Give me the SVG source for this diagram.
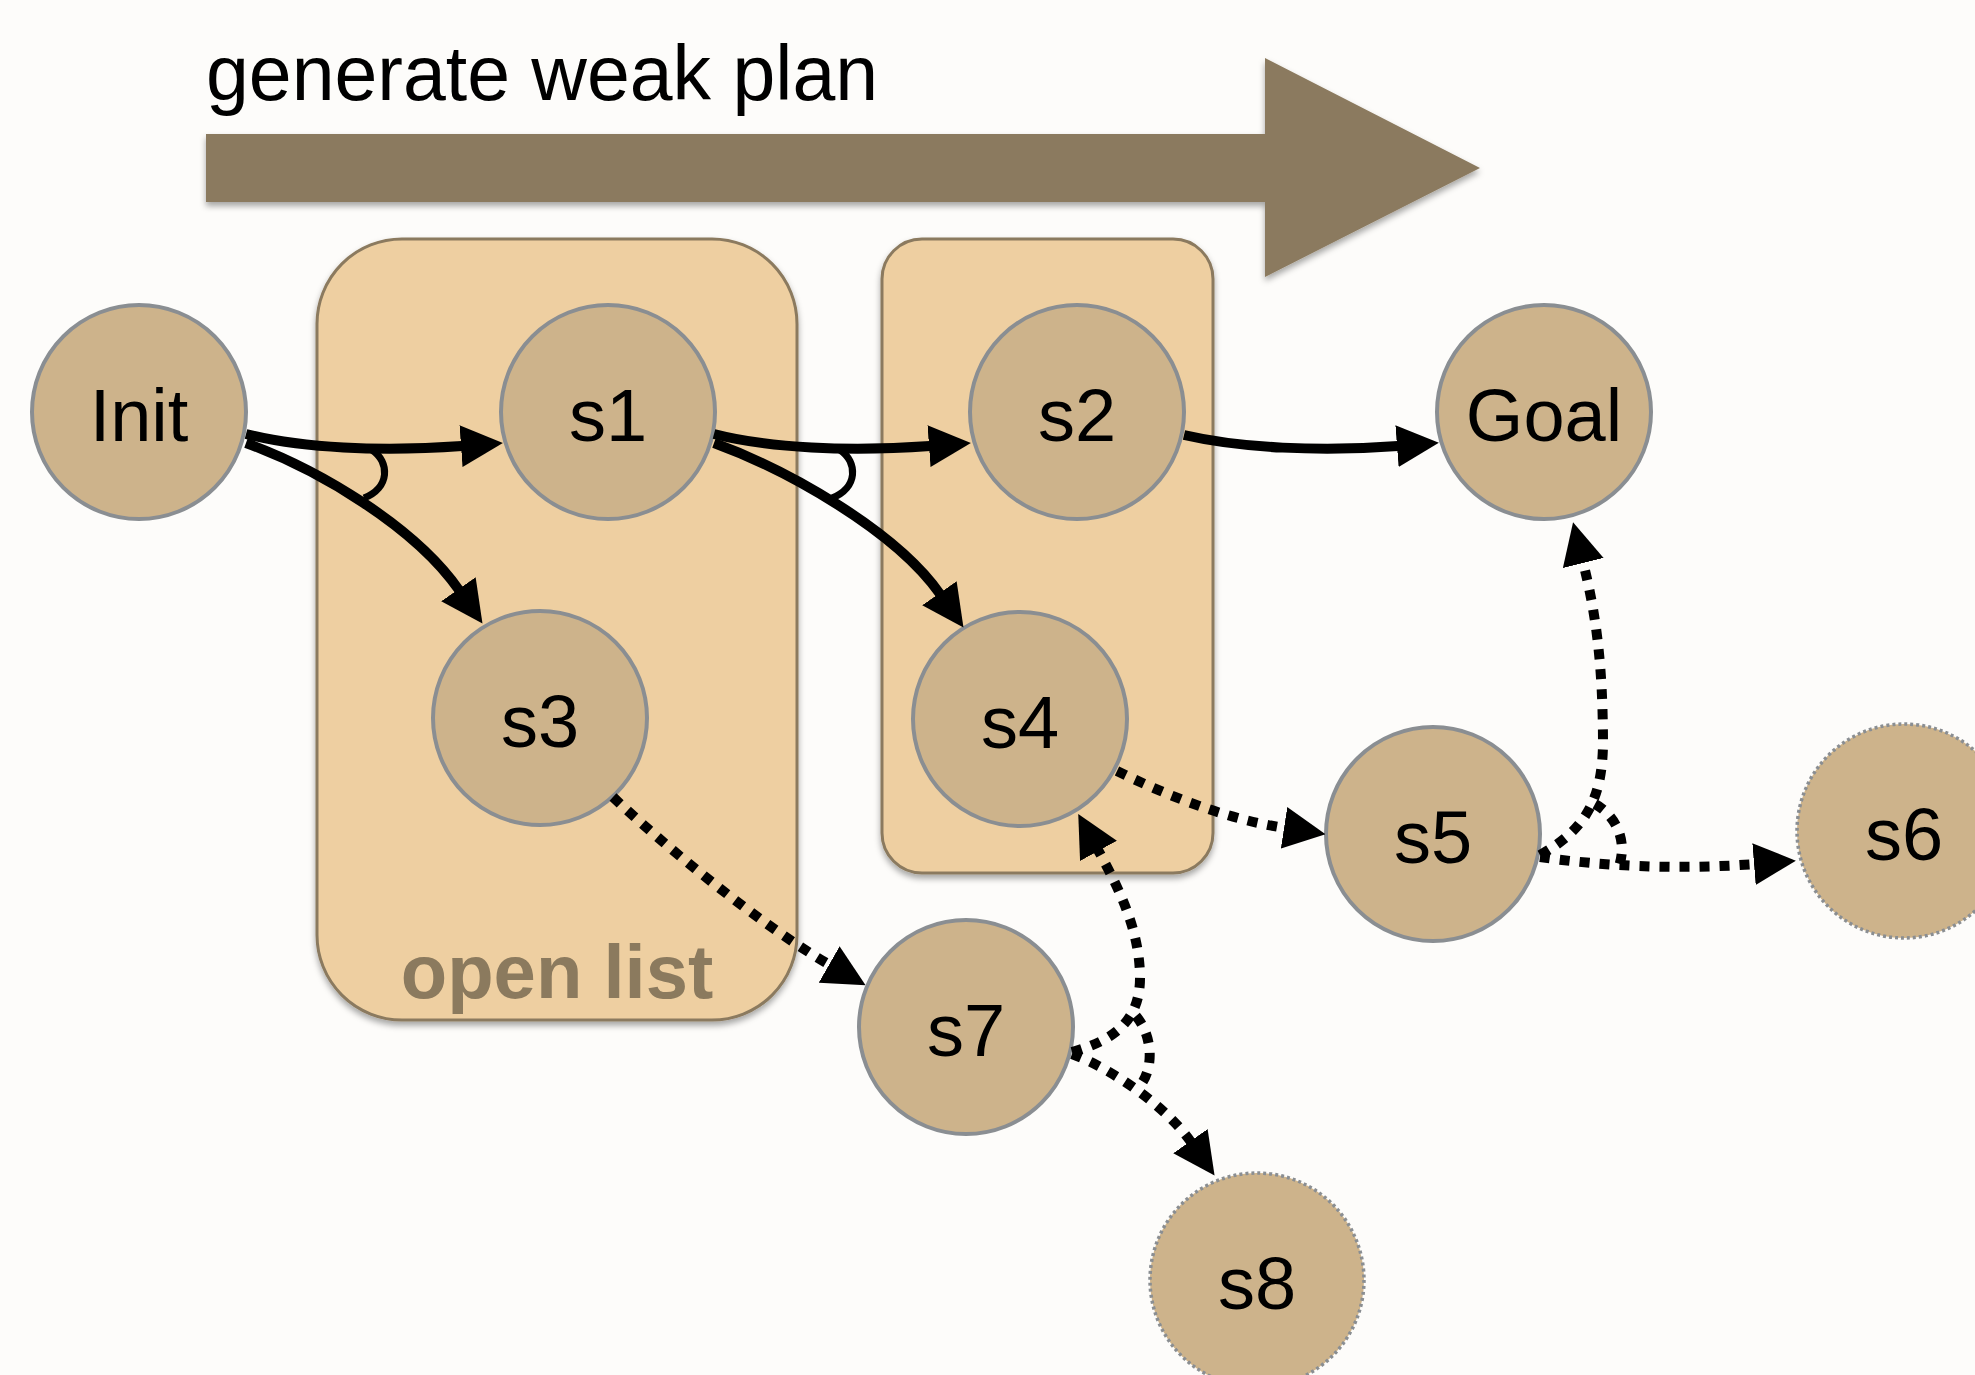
<svg xmlns="http://www.w3.org/2000/svg" width="1975" height="1375" viewBox="0 0 1975 1375">
<defs>
<filter id="sh" x="-10%" y="-10%" width="120%" height="125%">
<feDropShadow dx="0" dy="4" stdDeviation="3" flood-color="#000" flood-opacity="0.35"/>
</filter>
<marker id="ah" markerUnits="userSpaceOnUse" viewBox="0 0 42 42" markerWidth="42" markerHeight="42" refX="1" refY="21" orient="auto">
<path d="M0,0 L42,21 L0,42 Z" fill="#000"/>
</marker>
<style>
.node circle{fill:#CDB38B;stroke:#8A8E92;stroke-width:4}
.node.ghost circle{stroke-dasharray:3 3;stroke-width:3.5}
.node text{font-family:"Liberation Sans",Arial,sans-serif;font-size:74px;fill:#000;text-anchor:middle}
.box{fill:#EECFA1;stroke:#8B7A5E;stroke-width:3}
.solid{fill:none;stroke:#000;stroke-width:10}
.dot{fill:none;stroke:#000;stroke-width:10;stroke-dasharray:10 10}
.and{fill:none;stroke:#000;stroke-width:7}
.anddot{fill:none;stroke:#000;stroke-width:10;stroke-dasharray:10 10}
</style>
</defs>
<rect width="1975" height="1375" fill="#FDFCFA"/>
<g id="title">
<polygon points="206,134 1265,134 1265,58 1480,168 1265,277 1265,202 206,202" fill="#8B7A5E" filter="url(#sh)"/>
<text x="206" y="100" font-family="'Liberation Sans',Arial,sans-serif" font-size="77" fill="#000">generate weak plan</text>
</g>
<g id="open-list">
<rect class="box" x="317" y="239" width="480" height="781" rx="85" ry="85" filter="url(#sh)"/>
<text x="557" y="998" font-family="'Liberation Sans',Arial,sans-serif" font-size="76" font-weight="bold" fill="#8B7A5E" text-anchor="middle">open list</text>
</g>
<g id="box2">
<rect class="box" x="882" y="239" width="331" height="634" rx="40" ry="40" filter="url(#sh)"/>
</g>
<g id="node-init" class="node"><circle cx="139" cy="412" r="107"/><text x="139" y="441">Init</text></g>
<g id="node-s1" class="node"><circle cx="608" cy="412" r="107"/><text x="608" y="441">s1</text></g>
<g id="node-s2" class="node"><circle cx="1077" cy="412" r="107"/><text x="1077" y="441">s2</text></g>
<g id="node-goal" class="node"><circle cx="1544" cy="412" r="107"/><text x="1544" y="441">Goal</text></g>
<g id="node-s3" class="node"><circle cx="540" cy="718" r="107"/><text x="540" y="747">s3</text></g>
<g id="node-s4" class="node"><circle cx="1020" cy="719" r="107"/><text x="1020" y="748">s4</text></g>
<g id="node-s5" class="node"><circle cx="1433" cy="834" r="107"/><text x="1433" y="863">s5</text></g>
<g id="node-s6" class="node ghost"><circle cx="1904" cy="831" r="107"/><text x="1904" y="860">s6</text></g>
<g id="node-s7" class="node"><circle cx="966" cy="1027" r="107"/><text x="966" y="1056">s7</text></g>
<g id="node-s8" class="node ghost"><circle cx="1257" cy="1280" r="107"/><text x="1257" y="1309">s8</text></g>
<g id="connectors">
<path class="solid" d="M246 434 C300 448 380 452 462 446" marker-end="url(#ah)"/>
<path class="solid" d="M246 443 C320 470 415 527 459 590" marker-end="url(#ah)"/>
<path class="and" d="M372 450 C390 462 390 488 364 498"/>
<path class="solid" d="M714 434 C768 448 848 452 930 446" marker-end="url(#ah)"/>
<path class="solid" d="M714 443 C788 470 896 531 940 594" marker-end="url(#ah)"/>
<path class="and" d="M840 450 C858 462 858 488 832 498"/>
<path class="solid" d="M1184 435 C1240 448 1320 452 1398 446" marker-end="url(#ah)"/>
<path class="dot" d="M613 797 C660 842 760 925 830 965" marker-end="url(#ah)"/>
<path class="dot" d="M1117 771 C1160 792 1220 818 1285 828" marker-end="url(#ah)"/>
<path class="dot" d="M1072 1052 C1115 1040 1141 1020 1140 975 C1139 930 1120 890 1098 850" marker-end="url(#ah)"/>
<path class="dot" d="M1072 1054 C1110 1068 1165 1105 1191 1142" marker-end="url(#ah)"/>
<path class="anddot" d="M1136 1016 C1152 1035 1154 1065 1142 1083"/>
<path class="dot" d="M1540 855 C1585 830 1602 800 1603 745 C1603 660 1595 610 1583 562" marker-end="url(#ah)"/>
<path class="dot" d="M1540 857 C1600 866 1680 870 1755 864" marker-end="url(#ah)"/>
<path class="anddot" d="M1595 804 C1615 815 1628 840 1619 866"/>
</g>
</svg>
